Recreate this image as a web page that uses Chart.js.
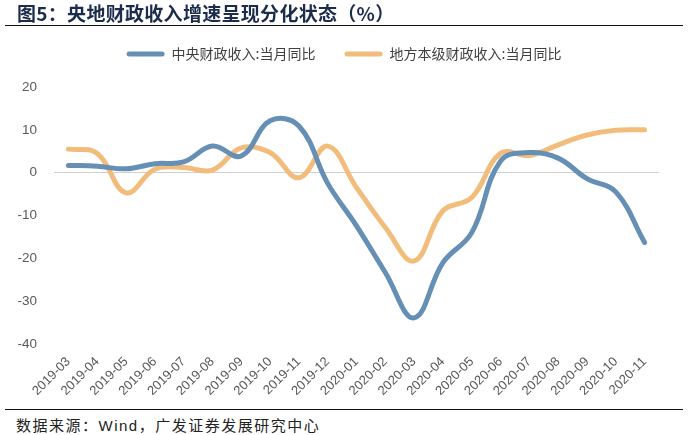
<!DOCTYPE html>
<html>
<head>
<meta charset="utf-8">
<script src="https://cdn.jsdelivr.net/npm/chart.js@4/dist/chart.umd.min.js"></script>
<style>
  html, body { margin: 0; padding: 0; background: #fff; }
  #page { position: relative; width: 688px; height: 435px; overflow: hidden; background: #fff; }
  #title { position: absolute; z-index: 2; left: 17px; top: -1px; font: bold 19px "Noto Sans CJK SC", "Liberation Sans", sans-serif; letter-spacing: 0.3px; color: #1c2c4c; white-space: nowrap; }
  .rule { position: absolute; z-index: 2; left: 5px; width: 678px; height: 0; border-top: 1.5px solid #111; }
  #footer { position: absolute; left: 16px; top: 414px; font: 15px "Liberation Sans", "Noto Sans CJK SC", sans-serif; letter-spacing: 1.5px; color: #222; white-space: nowrap; }
  #wrap { position: absolute; z-index: 1; left: 0; top: 18px; width: 688px; height: 388px; }
</style>
</head>
<body>
<div id="page">
  <div id="title">图5：央地财政收入增速呈现分化状态（%）</div>
  <div class="rule" style="top:25px"></div>
  <div id="wrap"><canvas id="c"></canvas></div>
  <div class="rule" style="top:409px"></div>
  <div id="footer">数据来源：Wind，广发证券发展研究中心</div>
</div>
<script>
const categories = ["2019-03","2019-04","2019-05","2019-06","2019-07","2019-08","2019-09","2019-10","2019-11","2019-12",
  "2020-01","2020-02","2020-03","2020-04","2020-05","2020-06","2020-07","2020-08","2020-09","2020-10","2020-11"];
const centralLabel = "中央财政收入:当月同比";
const localLabel = "地方本级财政收入:当月同比";
const centralValues = [1.7, 1.5, 0.9, 2.1, 2.5, 6.2, 3.9, 12.1, 10.9, -2.5, -12.4, -23.3, -33.9, -21.0, -14.0, 2.7, 4.7, 3.4, -1.4, -4.5, -16.3];
const localValues = [5.5, 4.5, -4.7, 0.8, 1.2, 0.6, 5.8, 4.7, -1.2, 6.2, -3.5, -12.8, -20.6, -8.9, -5.8, 4.5, 4.0, 6.5, 8.8, 9.9, 10.0];
const yTicks = [-40, -30, -20, -10, 0, 10, 20];

const blue = "#668fb5";
const orange = "#f2bd7c";

const legendGap = {
  id: "legendGap",
  beforeInit(chart) {
    const orig = chart.legend.fit;
    chart.legend.fit = function () {
      orig.bind(chart.legend)();
      this.height += 16;
    };
  },
  afterLayout(chart) {
    chart.legend.left = 0;
    chart.legend.right = 688;
  }
};

new Chart(document.getElementById("c"), {
  type: "line",
  data: {
    labels: categories,
    datasets: [
      { label: centralLabel, data: centralValues, borderColor: blue, backgroundColor: blue, borderWidth: 5, pointRadius: 0, tension: 0.4, borderCapStyle: "round", borderJoinStyle: "round" },
      { label: localLabel, data: localValues, borderColor: orange, backgroundColor: orange, borderWidth: 5, pointRadius: 0, tension: 0.4, borderCapStyle: "round", borderJoinStyle: "round" }
    ]
  },
  options: {
    responsive: true,
    maintainAspectRatio: false,
    animation: false,
    layout: { padding: { left: 0, right: 29, top: 0, bottom: 0 } },
    plugins: {
      tooltip: { enabled: false },
      legend: {
        position: "top",
        labels: {
          boxWidth: 38,
          boxHeight: 5,
          padding: 29,
          color: "#404040",
          font: { family: "'Noto Sans CJK SC', sans-serif", size: 14 },
          generateLabels(chart) {
            const items = Chart.defaults.plugins.legend.labels.generateLabels(chart);
            items.forEach(it => { it.lineWidth = 0; it.borderRadius = 2.5; });
            return items;
          },
          useBorderRadius: true,
          borderRadius: 2.5
        }
      }
    },
    scales: {
      x: {
        offset: true,
        grid: { display: false },
        border: { display: false },
        ticks: {
          autoSkip: false, maxRotation: 45, minRotation: 45,
          color: "#595959", padding: 2,
          font: { family: "'Liberation Sans', Arial, sans-serif", size: 13 }
        },
        afterFit(scale) { scale.height = 62; }
      },
      y: {
        min: -40, max: 20,
        afterBuildTicks(scale) { scale.ticks = yTicks.map(v => ({ value: v })); },
        grid: {
          drawTicks: false,
          color: ctx => (ctx.tick && ctx.tick.value === 0) ? "#d0d0d0" : "rgba(0,0,0,0)",
          lineWidth: 1
        },
        border: { display: false },
        ticks: {
          color: "#595959", padding: 17,
          font: { family: "'Liberation Sans', Arial, sans-serif", size: 13.5 }
        },
        afterFit(scale) { scale.width = 54; }
      }
    }
  },
  plugins: [legendGap]
});
</script>
</body>
</html>
